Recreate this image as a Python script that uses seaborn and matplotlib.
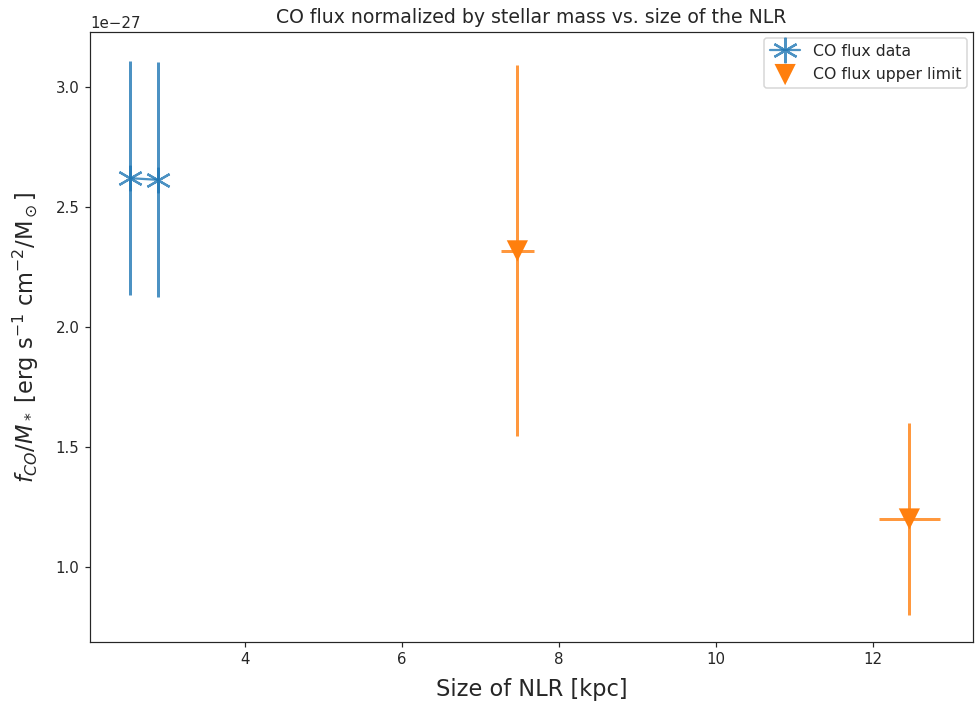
import numpy as np
import pandas as pd
import matplotlib
matplotlib.use("Agg")
import matplotlib.pyplot as plt
import seaborn as sns

# Data (values in units of erg s^-1 cm^-2 / Msun)
det_size = [2.54, 2.90]
det_flux = [2.62e-27, 2.613e-27]
det_err = [0.487e-27, 0.49e-27]

ul_size = [7.47, 12.46]
ul_flux = [2.317e-27, 1.20e-27]
ul_yerr = [0.773e-27, 0.40e-27]
ul_xerr = [0.21, 0.39]

sns.set_style("ticks")
plt.rcParams['font.family'] = ['DejaVu Sans']

DPI = 108
fig = plt.figure(figsize=(975 / DPI, 707 / DPI), dpi=DPI)
ax = fig.add_axes([90 / 975, 1 - 642 / 707, 883 / 975, 610 / 707])

blue = '#1f77b4'
orange = '#ff7f0e'

det = pd.DataFrame({'size': det_size, 'flux': det_flux})
ul = pd.DataFrame({'size': ul_size, 'flux': ul_flux})

ax.errorbar(det_size, det_flux, yerr=det_err, fmt='none', ecolor=blue,
            elinewidth=2, alpha=0.8, capsize=0)
ax.errorbar(ul_size, ul_flux, yerr=ul_yerr, xerr=ul_xerr, fmt='none',
            ecolor=orange, elinewidth=2, alpha=0.8, capsize=0)

sns.lineplot(data=det, x='size', y='flux', ax=ax, color=blue, marker=(6, 2, 0),
             markersize=17, markeredgewidth=1.5, markeredgecolor=blue, lw=1.5,
             alpha=0.8, label='CO flux data', sort=False)
sns.scatterplot(data=ul, x='size', y='flux', ax=ax, color=orange, marker='v',
                s=200, edgecolor='none', label='CO flux upper limit', zorder=5)

ax.set_xlim(2.03, 13.27)
ax.set_ylim(0.6875e-27, 3.229e-27)
ax.set_xticks([4, 6, 8, 10, 12])
ax.set_yticks(np.array([1.0, 1.5, 2.0, 2.5, 3.0]) * 1e-27)
ax.tick_params(labelsize=10, length=3.5)
for sp in ax.spines.values():
    sp.set_visible(True)
    sp.set_linewidth(0.8)

ax.set_xlabel('Size of NLR [kpc]', fontsize=15, labelpad=7)
ax.set_ylabel(r'$f_{CO}/M_*$ [erg s$^{-1}$ cm$^{-2}$/M$_\odot$]', fontsize=15, labelpad=10)
ax.set_title('CO flux normalized by stellar mass vs. size of the NLR', fontsize=12.6)
ax.yaxis.get_offset_text().set_fontsize(10)
ax.legend(loc='upper right', fontsize=10.5, frameon=True, borderaxespad=0.35,
          handlelength=1.9)

fig.savefig('out.png', dpi=DPI)
